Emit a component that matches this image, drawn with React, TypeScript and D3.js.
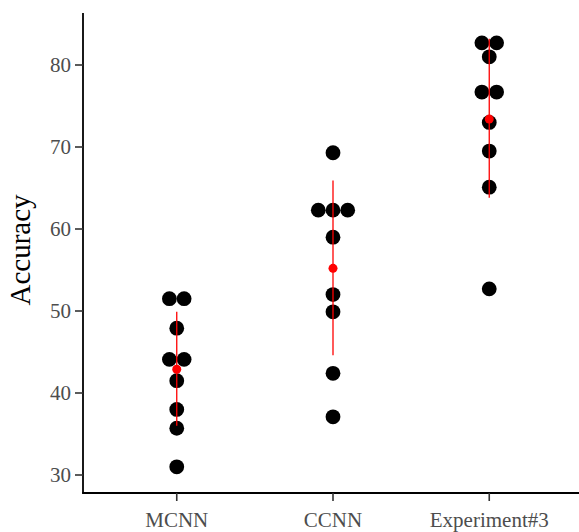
import React from "react";
import * as d3 from "d3";

const categories = ["MCNN", "CCNN", "Experiment#3"];

const mcnnValues = [51.5, 51.5, 47.9, 44.1, 44.1, 41.5, 38.0, 35.7, 31.0];
const ccnnValues = [69.3, 62.3, 62.3, 62.3, 59.0, 52.0, 49.9, 42.4, 37.1];
const exp3Values = [82.7, 82.7, 81.0, 76.7, 76.7, 73.0, 69.5, 65.1, 52.7];

const meanValues = [42.9, 55.2, 73.4];
const lowerValues = [36.0, 44.6, 63.8];
const upperValues = [49.9, 65.9, 83.2];

const yTicks = [30, 40, 50, 60, 70, 80];

const width = 579;
const height = 532;
const font = "'Liberation Serif', 'Times New Roman', serif";

const App = () => {
  const x = d3.scalePoint<string>().domain(categories).range([83, 583]).padding(0.6);
  const y = d3.scaleLinear().domain([30, 80]).range([475, 65]);

  const axisTop = 13;
  const axisBottom = 493;
  const axisLeft = 83;
  const binwidth = 14.7;
  const r = 7.4;

  const series = [mcnnValues, ccnnValues, exp3Values];

  // stack equal values side by side, centred on the category
  const dots: { cx: number; cy: number }[] = [];
  series.forEach((vals, i) => {
    const groups = d3.group(vals, (v) => v);
    groups.forEach((g, v) => {
      g.forEach((_, j) => {
        dots.push({
          cx: (x(categories[i]) as number) + (j - (g.length - 1) / 2) * binwidth,
          cy: y(v),
        });
      });
    });
  });

  return (
    <svg
      width={width}
      height={height}
      style={{ position: "absolute", left: 0, top: 0, background: "white" }}
    >
      {/* axes */}
      <line x1={axisLeft} x2={axisLeft} y1={axisTop} y2={axisBottom + 0.8} stroke="black" strokeWidth={1.8} />
      <line x1={axisLeft - 0.8} x2={width} y1={axisBottom} y2={axisBottom} stroke="black" strokeWidth={1.8} />

      {yTicks.map((t) => (
        <g key={t}>
          <line x1={axisLeft - 8} x2={axisLeft} y1={y(t)} y2={y(t)} stroke="#333" strokeWidth={1.6} />
          <text
            x={axisLeft - 12}
            y={y(t)}
            dy="0.35em"
            textAnchor="end"
            fontFamily={font}
            fontSize={21}
            fill="#4d4d4d"
          >
            {t}
          </text>
        </g>
      ))}

      {categories.map((c) => (
        <g key={c}>
          <line x1={x(c)} x2={x(c)} y1={axisBottom} y2={axisBottom + 8} stroke="#333" strokeWidth={1.6} />
          <text
            x={x(c)}
            y={527}
            textAnchor="middle"
            fontFamily={font}
            fontSize={21}
            fill="#4d4d4d"
          >
            {c}
          </text>
        </g>
      ))}

      <text
        transform={`translate(30, ${(axisTop + axisBottom) / 2 - 3}) rotate(-90)`}
        textAnchor="middle"
        fontFamily={font}
        fontSize={29}
        fill="black"
      >
        Accuracy
      </text>

      {/* dots */}
      {dots.map((d, i) => (
        <circle key={i} cx={d.cx} cy={d.cy} r={r} fill="black" />
      ))}

      {/* mean ± error */}
      {categories.map((c, i) => (
        <g key={c}>
          <line
            x1={x(c)}
            x2={x(c)}
            y1={y(upperValues[i])}
            y2={y(lowerValues[i])}
            stroke="red"
            strokeWidth={1.3}
          />
          <circle cx={x(c)} cy={y(meanValues[i])} r={4.5} fill="red" />
        </g>
      ))}
    </svg>
  );
};

export default App;
